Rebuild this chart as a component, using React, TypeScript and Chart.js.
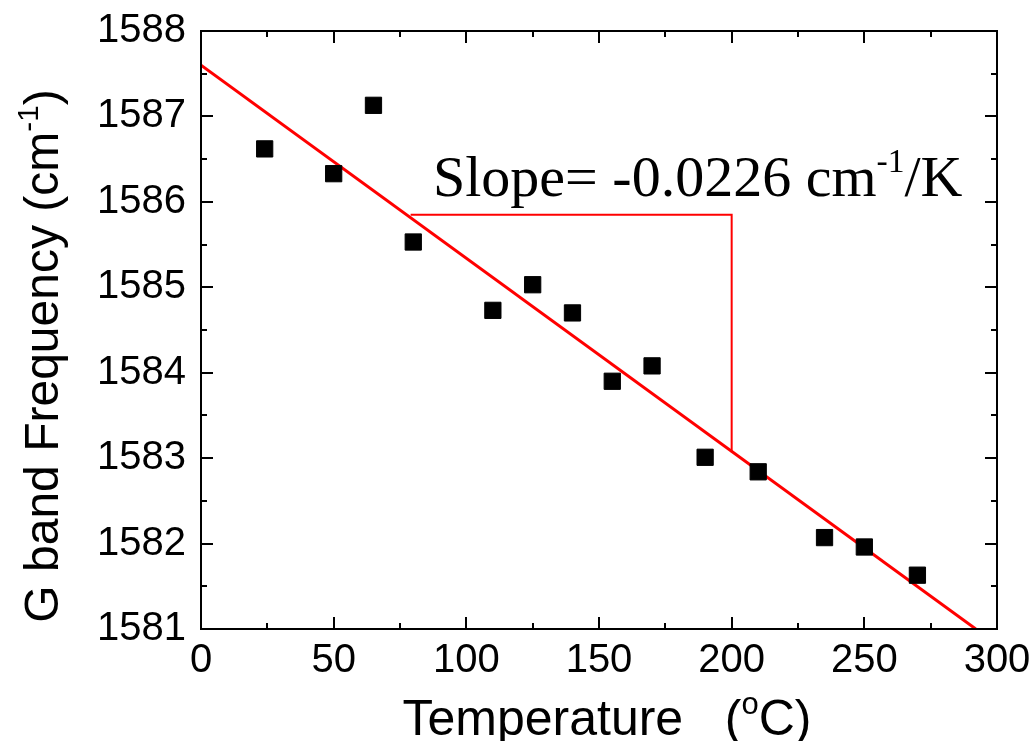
import React, { useEffect, useRef } from "react";
import { Chart, registerables } from "chart.js";

Chart.register(...registerables);

// ---- data ----
const temperatures = [24, 50, 65, 80, 110, 125, 140, 155, 170, 190, 210, 235, 250, 270];
const frequencies = [
  1586.62, 1586.33, 1587.13, 1585.53, 1584.73, 1585.03, 1584.7, 1583.9, 1584.08,
  1583.01, 1582.84, 1582.07, 1581.96, 1581.63,
];
const fitX = [0, 292];
const fitY = [1587.6, 1581.0];
const triangleX = [79, 200, 200];
const triangleY = [1585.85, 1585.85, 1583.07];
const xMajorTicks = [0, 50, 100, 150, 200, 250, 300];
const xMinorTicks = [25, 75, 125, 175, 225, 275];
const yMajorTicks = [1581, 1582, 1583, 1584, 1585, 1586, 1587, 1588];
const yMinorTicks = [1581.5, 1582.5, 1583.5, 1584.5, 1585.5, 1586.5, 1587.5];
const slopeText = "Slope= -0.0226 cm";
const slopeSup = "-1";
const slopeTail = "/K";

type Seg = { text: string; sup?: boolean };

function drawRich(
  ctx: CanvasRenderingContext2D,
  segs: Seg[],
  x: number,
  y: number,
  size: number,
  family: string,
  align: "left" | "center",
  supScale = 0.62
) {
  const supSize = size * supScale;
  const widths = segs.map((s) => {
    ctx.font = `${s.sup ? supSize : size}px ${family}`;
    return ctx.measureText(s.text).width;
  });
  const total = widths.reduce((a, b) => a + b, 0);
  let cx = align === "center" ? x - total / 2 : x;
  ctx.textBaseline = "alphabetic";
  ctx.textAlign = "left";
  segs.forEach((s, i) => {
    ctx.font = `${s.sup ? supSize : size}px ${family}`;
    ctx.fillText(s.text, cx, s.sup ? y - size * 0.42 : y);
    cx += widths[i];
  });
}

const framePlugin = {
  id: "frameAndText",
  afterDatasetsDraw(chart: any) {
    const { ctx, chartArea, scales } = chart;
    const { left, right, top, bottom } = chartArea;
    const x = scales.x;
    const y = scales.y;
    ctx.save();
    ctx.strokeStyle = "#000";
    ctx.lineWidth = 2;
    ctx.strokeRect(left, top, right - left, bottom - top);
    const drawX = (v: number, len: number) => {
      const px = Math.round(x.getPixelForValue(v));
      ctx.beginPath();
      ctx.moveTo(px, bottom);
      ctx.lineTo(px, bottom - len);
      ctx.moveTo(px, top);
      ctx.lineTo(px, top + len);
      ctx.stroke();
    };
    const drawY = (v: number, len: number) => {
      const py = Math.round(y.getPixelForValue(v));
      ctx.beginPath();
      ctx.moveTo(left, py);
      ctx.lineTo(left + len, py);
      ctx.moveTo(right, py);
      ctx.lineTo(right - len, py);
      ctx.stroke();
    };
    xMajorTicks.forEach((v) => drawX(v, 12));
    xMinorTicks.forEach((v) => drawX(v, 6));
    yMajorTicks.forEach((v) => drawY(v, 12));
    yMinorTicks.forEach((v) => drawY(v, 6));

    ctx.fillStyle = "#000";
    // x title
    drawRich(
      ctx,
      [{ text: "Temperature   (" }, { text: "o", sup: true }, { text: "C)" }],
      (left + right) / 2 + 8,
      735,
      50,
      "'Liberation Sans', Arial, sans-serif",
      "center"
    );
    // y title
    ctx.save();
    ctx.translate(58, (top + bottom) / 2 + 26);
    ctx.rotate(-Math.PI / 2);
    drawRich(
      ctx,
      [{ text: "G band Frequency (cm" }, { text: "-1", sup: true }, { text: ")" }],
      0,
      0,
      48,
      "'Liberation Sans', Arial, sans-serif",
      "center"
    );
    ctx.restore();
    // slope annotation
    drawRich(
      ctx,
      [{ text: slopeText }, { text: slopeSup, sup: true }, { text: slopeTail }],
      433,
      196,
      58,
      "'Liberation Serif', 'Times New Roman', serif",
      "left",
      0.58
    );
    ctx.restore();
  },
};

export default function App() {
  const ref = useRef<HTMLCanvasElement>(null);
  useEffect(() => {
    if (!ref.current) return;
    const chart = new Chart(ref.current, {
      type: "scatter",
      data: {
        datasets: [
          {
            label: "fit",
            data: fitX.map((v, i) => ({ x: v, y: fitY[i] })),
            showLine: true,
            borderColor: "#ff0000",
            borderWidth: 3,
            pointRadius: 0,
            order: 2,
          },
          {
            label: "slope triangle",
            data: triangleX.map((v, i) => ({ x: v, y: triangleY[i] })),
            showLine: true,
            borderColor: "#ff0000",
            borderWidth: 2,
            pointRadius: 0,
            order: 3,
          },
          {
            label: "G band",
            data: temperatures.map((v, i) => ({ x: v, y: frequencies[i] })),
            pointStyle: "rect",
            pointRadius: 11.5,
            backgroundColor: "#000",
            borderColor: "#000",
            borderWidth: 1,
            order: 1,
          },
        ],
      },
      options: {
        responsive: false,
        animation: false,
        devicePixelRatio: 1,
        layout: { padding: { left: 0, top: 31, right: 38, bottom: 0 } },
        plugins: { legend: { display: false }, tooltip: { enabled: false } },
        scales: {
          x: {
            type: "linear",
            min: 0,
            max: 300,
            afterFit: (s: any) => {
              s.height = 112;
              s.paddingLeft = 0;
              s.paddingRight = 0;
              s.paddingTop = 0;
              s.paddingBottom = 0;
            },
            grid: { display: false, drawTicks: false },
            border: { display: false },
            ticks: {
              stepSize: 50,
              autoSkip: false,
              maxRotation: 0,
              padding: 8,
              color: "#000",
              callback: (v: any) => String(v),
              font: { family: "'Liberation Sans', Arial, sans-serif", size: 40 },
            },
          },
          y: {
            type: "linear",
            min: 1581,
            max: 1588,
            afterFit: (s: any) => {
              s.width = 201;
              s.paddingLeft = 0;
              s.paddingRight = 0;
              s.paddingTop = 0;
              s.paddingBottom = 0;
            },
            grid: { display: false, drawTicks: false },
            border: { display: false },
            ticks: {
              stepSize: 1,
              autoSkip: false,
              padding: 15,
              color: "#000",
              callback: (v: any) => String(v),
              font: { family: "'Liberation Sans', Arial, sans-serif", size: 40 },
            },
          },
        },
      },
      plugins: [framePlugin],
    });
    return () => chart.destroy();
  }, []);
  return (
    <div style={{ position: "absolute", left: 0, top: 0, width: 1035, height: 741, background: "#fff" }}>
      <canvas ref={ref} width={1035} height={741} />
    </div>
  );
}
